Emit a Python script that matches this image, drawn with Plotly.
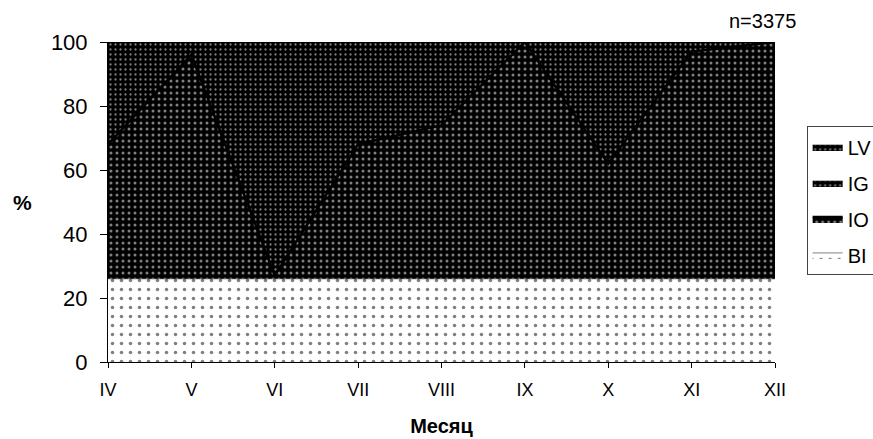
import plotly.graph_objects as go

months = ["IV", "V", "VI", "VII", "VIII", "IX", "X", "XI", "XII"]
# Share of each group per month, %
bi = [26, 26, 26, 26, 26, 26, 26, 26, 26]
io = [42, 70, 1, 42, 48, 74, 36, 71, 74]
ig = [32, 4, 73, 32, 26, 0, 38, 3, 0]
lv = [0, 0, 0, 0, 0, 0, 0, 0, 0]

FONT = "Liberation Sans, Arial, sans-serif"
dark = dict(shape=".", fgcolor="white", bgcolor="black", size=5, solidity=0.16)

fig = go.Figure()
fig.add_trace(go.Scatter(
    x=months, y=bi, name="BI", stackgroup="s", mode="lines",
    legendgroup="bi", legendrank=4,
    line=dict(color="black", width=0.5),
    fillpattern=dict(shape=".", fgcolor="black", bgcolor="white", size=9, solidity=0.12),
))
fig.add_trace(go.Scatter(
    x=months, y=io, name="IO", stackgroup="s", mode="lines",
    legendgroup="io", legendrank=3,
    line=dict(color="black", width=2.5),
    fillpattern=dict(shape=".", fgcolor="white", bgcolor="black", size=6, solidity=0.2),
))
fig.add_trace(go.Scatter(
    x=months, y=ig, name="IG", stackgroup="s", mode="lines",
    legendgroup="ig", legendrank=2,
    line=dict(color="black", width=0.5),
    fillpattern=dark,
))
fig.add_trace(go.Scatter(
    x=months, y=lv, name="LV", stackgroup="s", mode="lines",
    legendgroup="lv", legendrank=1,
    line=dict(color="black", width=0.5),
    fillpattern=dark,
))

fig.update_layout(
    width=873, height=439,
    margin=dict(l=108, r=98, t=42, b=77),
    plot_bgcolor="white", paper_bgcolor="white",
    font=dict(family=FONT, color="black", size=18),
    showlegend=True,
    legend=dict(
        traceorder="grouped", xref="container", yref="container",
        x=0.924, y=0.712, xanchor="left", yanchor="top",
        bordercolor="#444", borderwidth=1, bgcolor="white",
        font=dict(size=20), itemwidth=30, tracegroupgap=7,
    ),
    xaxis=dict(
        range=[0, 8], showgrid=False, showline=True, linecolor="black", linewidth=1,
        ticks="outside", ticklen=5, tickcolor="black", tickfont=dict(size=18),
        ticklabelstandoff=6, automargin=False,
        title=dict(text="<b>Месяц</b>", font=dict(size=20), standoff=20),
    ),
    yaxis=dict(
        range=[0, 100], dtick=20, showgrid=False, showline=True, linecolor="black",
        linewidth=1, ticks="outside", ticklen=7, tickcolor="black",
        tickfont=dict(size=22), ticklabelstandoff=8, automargin=False,
    ),
    annotations=[
        dict(text="n=3375", x=0.982, y=1.0, xref="paper", yref="paper",
             xanchor="center", yanchor="bottom", yshift=8, showarrow=False,
             font=dict(size=20)),
        dict(text="<b>%</b>", x=-0.128, y=0.5, xref="paper", yref="paper",
             xanchor="center", showarrow=False, font=dict(size=21)),
    ],
)

fig.write_html("out.html")
